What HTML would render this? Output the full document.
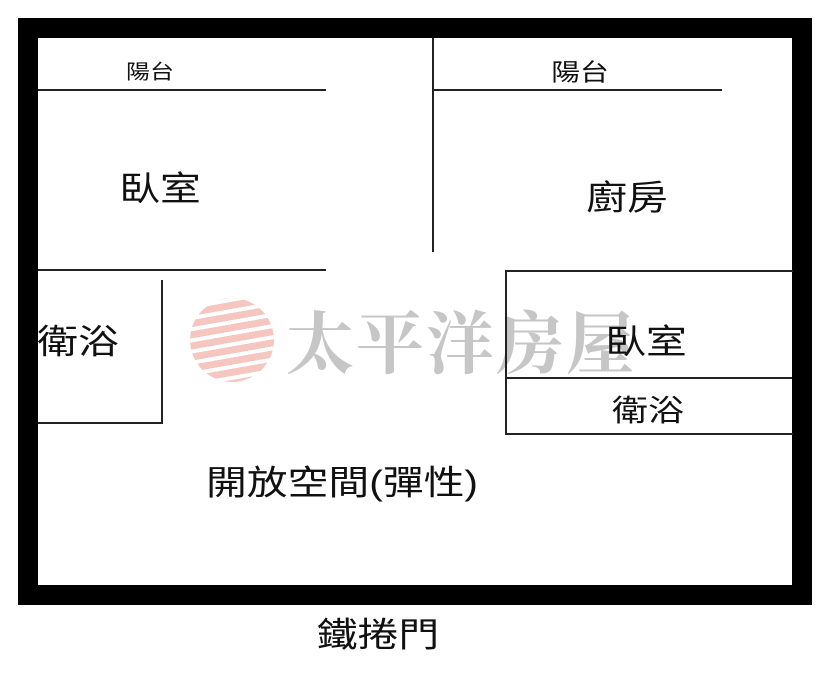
<!DOCTYPE html>
<html><head><meta charset="utf-8"><style>
body{margin:0;width:830px;height:677px;background:#fff;position:relative;overflow:hidden;font-family:"Liberation Sans","Noto Sans CJK TC",sans-serif;}
.a{position:absolute}
.t{position:absolute;transform:translate(-50%,-50%) scaleX(1.2);white-space:nowrap;color:#111}
.h{position:absolute;height:2px;background:#222}
.v{position:absolute;width:2px;background:#222}
</style></head><body>
<div class="a" style="left:18px;top:18px;width:754px;height:547px;border:20px solid #000"></div>
<div class="a" style="left:190px;top:298px;width:84px;height:84px;border-radius:50%;background:repeating-linear-gradient(170deg,#f3b8b0 0 7px,#fff 7px 11px);opacity:.8"></div>
<div class="a" style="left:286px;top:298px;font-family:'Noto Serif CJK SC',serif;font-weight:bold;font-size:68px;line-height:84px;color:#c6c6c6;letter-spacing:2px">太平洋房屋</div>
<div class="h" style="left:38px;top:89px;width:288px"></div>
<div class="v" style="left:432px;top:38px;height:214px"></div>
<div class="h" style="left:433px;top:89px;width:289px"></div>
<div class="h" style="left:38px;top:269px;width:288px"></div>
<div class="v" style="left:161px;top:280px;height:144px"></div>
<div class="h" style="left:38px;top:422px;width:125px"></div>
<div class="a" style="left:505px;top:270px;width:286px;height:161px;border:2px solid #222;border-right:none"></div>
<div class="h" style="left:505px;top:377px;width:287px"></div>
<div class="t" style="left:150px;top:70px;font-size:20px">陽台</div>
<div class="t" style="left:580px;top:70px;font-size:24px">陽台</div>
<div class="t" style="left:160px;top:186px;font-size:34px">臥室</div>
<div class="t" style="left:627px;top:195px;font-size:34px">廚房</div>
<div class="t" style="left:78px;top:339px;font-size:34px">衛浴</div>
<div class="t" style="left:646px;top:339px;font-size:34px">臥室</div>
<div class="t" style="left:648px;top:408px;font-size:30px">衛浴</div>
<div class="t" style="left:342px;top:480px;font-size:34px">開放空間(彈性)</div>
<div class="t" style="left:378px;top:632px;font-size:34px">鐵捲門</div>
</body></html>
